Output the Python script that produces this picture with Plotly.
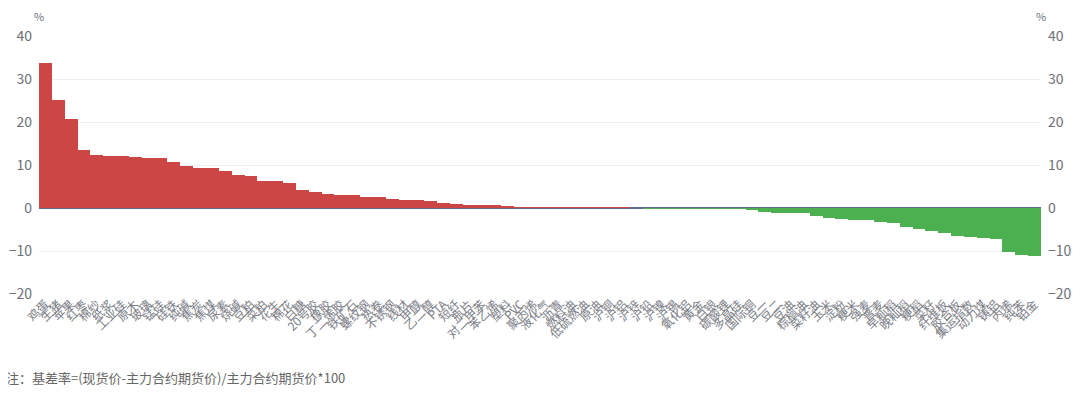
import plotly.graph_objects as go

categories = [
    "鸡蛋", "生猪", "苹果", "红枣", "棉纱", "纸浆", "工业硅", "原木", "玻璃", "锰硅",
    "硅铁", "纯碱", "焦炭", "焦煤", "尿素", "烧碱", "豆粕", "菜粕", "花生", "棉花",
    "白糖", "20号胶", "橡胶", "丁二烯胶", "铁矿石", "螺纹钢", "热卷", "不锈钢", "线材", "甲醇",
    "乙二醇", "PTA", "短纤", "瓶片", "对二甲苯", "苯乙烯", "塑料", "PVC", "聚丙烯", "液化气",
    "沥青", "燃料油", "低硫燃油", "原油", "沪铜", "沪铝", "沪锌", "沪铅", "沪镍", "沪锡",
    "氧化铝", "黄金", "白银", "碳酸锂", "多晶硅", "国际铜", "豆一", "豆二", "豆油", "棕榈油",
    "菜籽油", "玉米", "淀粉", "粳米", "强麦", "普麦", "早籼稻", "晚籼稻", "粳稻", "菜籽",
    "纤维板", "胶合板", "集运指数", "动力煤", "铸铝", "丙烯", "纯苯", "铂金",
]

basis_rate = [
    33.7, 25.1, 20.8, 13.5, 12.4, 12.1, 12.0, 11.9, 11.7, 11.6,
    10.8, 9.8, 9.3, 9.2, 8.7, 7.6, 7.5, 6.2, 6.2, 5.8,
    4.3, 3.7, 3.2, 3.1, 3.0, 2.6, 2.5, 2.0, 1.9, 1.8,
    1.7, 1.1, 1.0, 0.7, 0.6, 0.6, 0.25, 0.2, 0.15, 0.12,
    0.1, 0.08, 0.06, 0.05, 0.03, 0.02, 0.0, -0.02, -0.03, -0.04,
    -0.05, -0.06, -0.08, -0.1, -0.12, -0.3, -1.0, -1.1, -1.1, -1.2,
    -1.85, -2.3, -2.6, -2.8, -2.9, -3.2, -3.6, -4.5, -4.9, -5.4,
    -5.8, -6.5, -6.7, -6.9, -7.3, -10.3, -10.9, -11.1,
]

y_ticks = [-20, -10, 0, 10, 20, 30, 40]
note_text = "注：基差率=(现货价-主力合约期货价)/主力合约期货价*100"

assert len(categories) == len(basis_rate)

RED = "#cb4645"
GREEN = "#4caf50"
colors = [RED if v >= 0 else GREEN for v in basis_rate]

font_family = "Noto Sans CJK SC, Noto Sans, sans-serif"
tick_color = "#6e7079"

fig = go.Figure()
fig.add_trace(go.Bar(
    x=categories, y=basis_rate, marker=dict(color=colors, line=dict(width=0)),
    showlegend=False, hoverinfo="x+y",
))
fig.add_trace(go.Scatter(
    x=[categories[0]], y=[None], yaxis="y2", mode="markers",
    showlegend=False, hoverinfo="skip",
))

# page has an 8px body margin, so the figure is sized to fit inside it
W, H = 1064, 389
ml, mr, mt = 31, 31, 28
plot_h = 258
mb = H - mt - plot_h
pw = W - ml - mr

fig.update_layout(
    width=W, height=H,
    margin=dict(l=ml, r=mr, t=mt, b=mb, autoexpand=False),
    paper_bgcolor="white", plot_bgcolor="white",
    bargap=0,
    font=dict(family=font_family, color=tick_color),
    xaxis=dict(
        type="category", tickmode="array", tickvals=categories, ticktext=categories,
        tickangle=-45, tickfont=dict(size=12, color="#7a7c85"),
        showgrid=False, showline=False, ticks="", zeroline=False,
        range=[-0.5, len(categories) - 0.5], automargin=False,
    ),
    yaxis=dict(
        range=[-20, 40], tickvals=y_ticks, showgrid=True, gridcolor="#eceef5",
        gridwidth=1, zeroline=True, zerolinecolor="#5d6b8e", zerolinewidth=1.5,
        tickfont=dict(size=14, color=tick_color), ticks="", ticklabelstandoff=6,
        showline=False, automargin=False,
    ),
    yaxis2=dict(
        range=[-20, 40], tickvals=y_ticks, overlaying="y", side="right",
        showgrid=False, zeroline=False, showline=False, ticks="",
        tickfont=dict(size=14, color=tick_color), ticklabelstandoff=6,
        automargin=False,
    ),
    annotations=[
        dict(text="%", xref="paper", yref="paper", x=0, y=1, xanchor="center",
             yanchor="bottom", yshift=10, showarrow=False,
             font=dict(size=11, color=tick_color)),
        dict(text="%", xref="paper", yref="paper", x=1, y=1, xanchor="center",
             yanchor="bottom", yshift=10, showarrow=False,
             font=dict(size=11, color=tick_color)),
        dict(text=note_text, xref="paper", yref="paper",
             x=(-4 - ml) / pw, y=0, xanchor="left", yanchor="middle",
             yshift=-83, showarrow=False,
             font=dict(size=13, color="#666666")),
    ],
)

fig.write_html("out.html")
